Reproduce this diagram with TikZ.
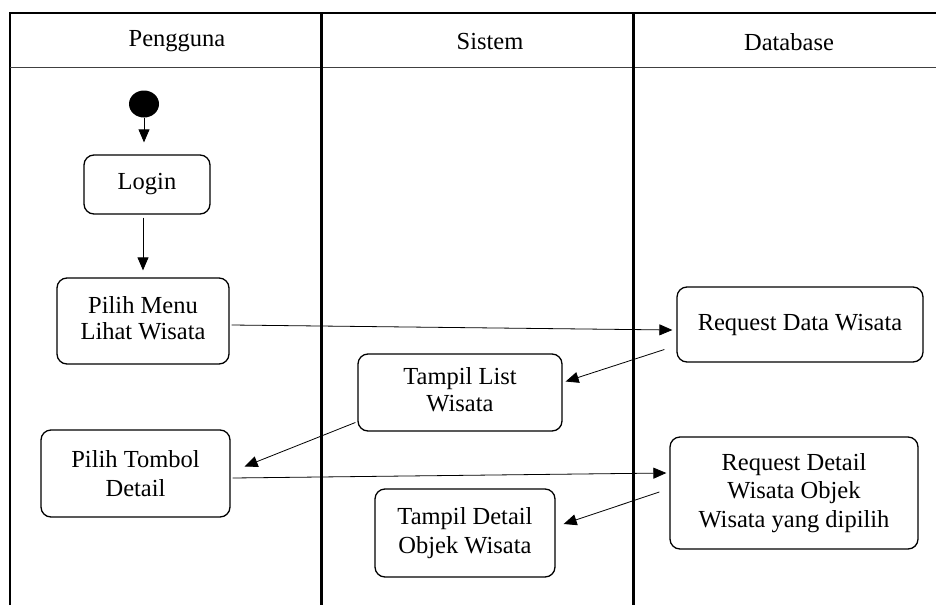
\documentclass[tikz,border=0pt]{standalone}
\usepackage{fontspec}
\setmainfont{Liberation Serif}
\usetikzlibrary{arrows.meta,calc,shapes.geometric}
\tikzset{
  actbox/.style={draw, line width=1.3pt, rounded corners=10pt, align=center, inner sep=2pt, font=\fontsize{24.5}{28.5}\selectfont},
  lanetitle/.style={font=\fontsize{24.5}{28}\selectfont},
  arr/.style={line width=0.8pt, -{Triangle[length=13pt,width=11pt]}},
  lane/.style={line width=3pt},
}
\begin{document}
\begin{tikzpicture}[x=1pt,y=-1pt]
\useasboundingbox (0,0) rectangle (936,605);
% swimlanes
\draw[line width=2.5pt] (10,605) -- (10,13) -- (936,13);
\draw[line width=1pt, black!75] (10,67) -- (936,67);
\draw[lane] (321,13) -- (321,605);
\draw[lane] (633,13) -- (633,605);
\node[lanetitle] (hp) at (177,41) {Pengguna};
\node[lanetitle] (hs) at (490,42) {Sistem};
\node[lanetitle] (hd) at (789,42) {Database};
% nodes
\node[ellipse, fill=black, minimum width=30pt, minimum height=27pt, inner sep=0pt] (start) at (144,104) {};
\node[actbox, minimum width=126pt, minimum height=59pt] (login) at (147,184.5) {Login};
\node[actbox, minimum width=172pt, minimum height=86pt] (menu) at (143,321) {\raisebox{2pt}{\begin{tabular}{@{}c@{}}Pilih Menu\\[-2pt]Lihat Wisata\end{tabular}}};
\node[actbox, minimum width=246pt, minimum height=75pt] (reqdata) at (800,324.5) {\raisebox{5pt}{Request Data Wisata}};
\node[actbox, minimum width=204pt, minimum height=77pt] (list) at (460,392.5) {\raisebox{-2pt}{\begin{tabular}{@{}c@{}}Tampil List\\[-2pt]Wisata\end{tabular}}};
\node[actbox, minimum width=189pt, minimum height=87pt] (tombol) at (135.5,473.5) {Pilih Tombol\\Detail};
\node[actbox, minimum width=248pt, minimum height=112pt] (reqdet) at (794,493) {\raisebox{-4pt}{\begin{tabular}{@{}c@{}}Request Detail\\Wisata Objek\\Wisata yang dipilih\end{tabular}}};
\node[actbox, minimum width=180pt, minimum height=88pt] (detail) at (465,533) {Tampil Detail\\Objek Wisata};
% connectors
\draw[arr, shorten >=12pt] (start.south) -- (start.south |- login.north);
\draw[arr, shorten >=7pt, shorten <=3pt] (menu.north |- login.south) -- (menu.north);
\draw[arr] ($(menu.east)+(2,4)$) -- ($(reqdata.west)+(-4,5.5)$);
\draw[arr] ($(reqdata.west)+(-12,25)$) -- ($(list.east)+(3,-11)$);
\draw[arr] ($(list.west)+(-2,30)$) -- ($(tombol.east)+(14,-7)$);
\draw[arr] ($(tombol.east)+(2,4.5)$) -- ($(reqdet.west)+(-3,-20)$);
\draw[arr] ($(reqdet.west)+(-10,-1)$) -- ($(detail.east)+(8,-9)$);
\end{tikzpicture}
\end{document}
